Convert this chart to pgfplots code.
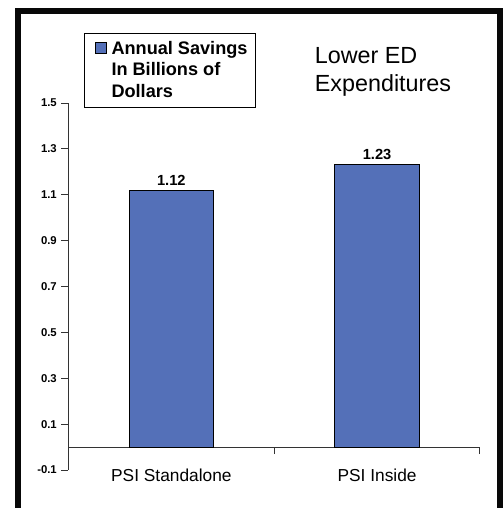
\documentclass[border=0pt]{standalone}
\usepackage{fontspec}
\setmainfont{Liberation Sans}
\usepackage{pgfplots}
\pgfplotsset{compat=1.18}
\definecolor{barblue}{RGB}{84,112,184}
\definecolor{axisgray}{RGB}{51,51,51}
\definecolor{framecol}{RGB}{8,8,8}

\begin{document}
\begin{tikzpicture}
% page is 503x508 px, 1px = 0.75pt
\node[anchor=base west, align=left, font=\fontsize{17.5}{21}\selectfont, inner sep=0pt]
  at (236pt,-68.25pt) {Lower ED\\Expenditures};

\begin{axis}[
  at={(51.375pt,-352.5pt)}, anchor=south west,
  scale only axis, width=308.6pt, height=275.25pt,
  xmin=-0.5, xmax=1.5, ymin=-0.1, ymax=1.5,
  axis y line=left, axis x line*=middle,
  hide obscured x ticks=false,
  axis line style={-, draw=axisgray, line width=0.75pt},
  tick align=outside,
  tick style={axisgray, line width=0.75pt},
  major tick length=5.25pt,
  xtick={-0.5,0.5,1.5},
  xticklabels={PSI Standalone,PSI Inside},
  x tick label as interval,
  xticklabel style={font=\fontsize{13}{15}\selectfont, yshift=-7.5pt},
  ytick={-0.1,0.1,0.3,0.5,0.7,0.9,1.1,1.3,1.5},
  yticklabel style={/pgf/number format/fixed, /pgf/number format/fixed zerofill,
    /pgf/number format/precision=1, font=\fontsize{8.5}{10}\selectfont\bfseries},
  /pgf/number format/assume math mode=true,
  ybar, bar width=0.41,
  nodes near coords,
  nodes near coords style={font=\fontsize{11}{12}\selectfont\bfseries,
    /pgf/number format/fixed, /pgf/number format/fixed zerofill,
    /pgf/number format/precision=2},
  legend style={at={(0.0377,1.1907)}, anchor=north west, draw=black, line width=0.75pt,
    font=\fontsize{13.6}{16}\selectfont\bfseries,
    cells={align=left, anchor=west}, inner xsep=4pt, inner ysep=4pt,
    /tikz/every odd column/.style={column sep=1.5pt}},
  legend image code/.code={
    \draw[#1, line width=0.75pt] (3.75pt,12.4pt) rectangle (12pt,20.6pt);
    \path (0pt,-20.6pt);
  },
]
\addplot[fill=barblue, draw=black, line width=0.75pt]
  coordinates {(0,1.12) (1,1.23)};
\legend{Annual Savings\\In Billions of\\Dollars}
\end{axis}

% dark frame round the chart (its bottom edge lies below the page)
\draw[framecol, line width=4pt, line join=miter]
  (13.5pt,-390pt) -- (13.5pt,-8.25pt) -- (375pt,-8.25pt) -- (375pt,-390pt);

\pgfresetboundingbox
\useasboundingbox (0,0) rectangle (377.25pt,-381pt);
\end{tikzpicture}
\end{document}
